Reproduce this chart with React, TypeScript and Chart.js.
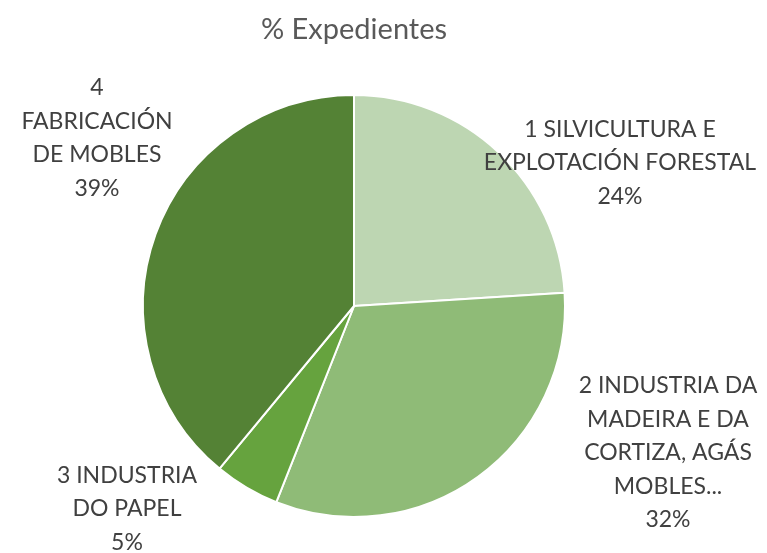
import React, { useEffect, useRef } from "react";
import { Chart, registerables } from "chart.js";

Chart.register(...registerables);

const TITLE = "% Expedientes";
const CATEGORIES: string[][] = [
  ["1 SILVICULTURA E", "EXPLOTACIÓN FORESTAL"],
  ["2 INDUSTRIA DA", "MADEIRA E DA", "CORTIZA, AGÁS", "MOBLES..."],
  ["3 INDUSTRIA", "DO PAPEL"],
  ["4", "FABRICACIÓN", "DE MOBLES"],
];
const VALUES: number[] = [24, 32, 5, 39];
const COLORS: string[] = ["#BDD6B2", "#8FBB77", "#66A33E", "#548235"];

// label centre offsets relative to pie centre (layout only)
const LABEL_OFFSETS: [number, number][] = [
  [266, -143],
  [314, 147],
  [-227, 203],
  [-257, -168],
];

const FONT_FAMILY = "Lato, 'Open Sans', sans-serif";
const LINE_H = 33.5;

const labelPlugin = {
  id: "customLabels",
  afterDraw(chart: any) {
    const ctx = chart.ctx as CanvasRenderingContext2D;
    const meta = chart.getDatasetMeta(0);
    const arc0 = meta.data[0];
    const cx = arc0.x;
    const cy = arc0.y;
    ctx.save();
    // title
    ctx.fillStyle = "#595959";
    ctx.font = `29px ${FONT_FAMILY}`;
    ctx.textAlign = "center";
    ctx.textBaseline = "middle";
    ctx.fillText(TITLE, cx, 30);

    ctx.fillStyle = "#404040";
    ctx.font = `23px ${FONT_FAMILY}`;
    const total = VALUES.reduce((a, b) => a + b, 0);
    CATEGORIES.forEach((lines, i) => {
      const pct = Math.round((VALUES[i] / total) * 100) + "%";
      const all = [...lines, pct];
      const [ox, oy] = LABEL_OFFSETS[i];
      const x = cx + ox;
      const yc = cy + oy;
      const y0 = yc - ((all.length - 1) * LINE_H) / 2;
      all.forEach((t, k) => {
        ctx.fillText(t, x, y0 + k * LINE_H);
      });
    });
    ctx.restore();
  },
};

export default function App() {
  const ref = useRef<HTMLCanvasElement>(null);
  useEffect(() => {
    if (!ref.current) return;
    const chart = new Chart(ref.current, {
      type: "pie",
      data: {
        labels: CATEGORIES.map((l) => l.join(" ")),
        datasets: [
          {
            data: VALUES,
            backgroundColor: COLORS,
            borderColor: "#FFFFFF",
            borderWidth: 2,
          },
        ],
      },
      options: {
        responsive: false,
        animation: false,
        layout: { padding: { left: 142, right: 201, top: 94, bottom: 35 } },
        plugins: {
          legend: { display: false },
          title: { display: false },
          tooltip: { enabled: false },
        },
      },
      plugins: [labelPlugin],
    });
    return () => chart.destroy();
  }, []);
  return (
    <div style={{ position: "fixed", left: 0, top: 0, width: 767, height: 553, background: "#fff" }}>
      <canvas ref={ref} width={767} height={553} style={{ width: 767, height: 553 }} />
    </div>
  );
}
